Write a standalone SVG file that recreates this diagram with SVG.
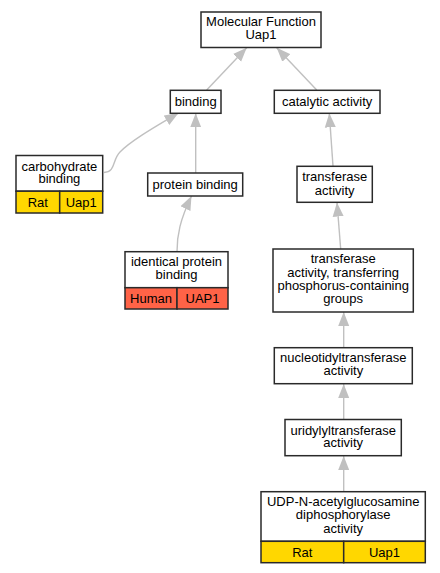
<svg xmlns="http://www.w3.org/2000/svg" width="440" height="573" viewBox="0 0 440 573">
<style>
.n{fill:#fff;stroke:#2a2a2a;stroke-width:1.5}
.y{fill:#ffd700;stroke:#2a2a2a;stroke-width:1.5}
.r{fill:#ff6347;stroke:#2a2a2a;stroke-width:1.5}
text{font-family:"Liberation Sans",Arial,sans-serif;font-size:13px;fill:#000;text-anchor:middle}
.e{fill:none;stroke:#c0c0c0;stroke-width:1.4;marker-end:url(#a)}
</style>
<defs>
<marker id="a" markerUnits="userSpaceOnUse" markerWidth="15" markerHeight="12" refX="14" refY="5.5" orient="auto" viewBox="0 0 15 11">
<path d="M0,0 L14,5.5 L0,11 z" fill="#c0c0c0"/>
</marker>
</defs>
<g id="connectors">
<path class="e" d="M206.7,90 L246.7,47.7"/>
<path class="e" d="M316.7,90 L276.7,47.7"/>
<path class="e" d="M104,172.5 C116,172 112,160 120,152 C132,140 155,127 178.5,113"/>
<path class="e" d="M195.7,173 L195.7,113.3"/>
<path class="e" d="M333,166 L329.3,113.3"/>
<path class="e" d="M177,251.7 C177,235 180,220 191.5,196"/>
<path class="e" d="M340.7,249 L337,202.5"/>
<path class="e" d="M343.7,348 L343.7,312"/>
<path class="e" d="M343.7,420 L343.7,384"/>
<path class="e" d="M343.7,492 L343.7,456"/>
</g>
<g id="mf">
<rect class="n" x="201" y="12" width="120" height="35.5"/>
<text x="261" y="26">Molecular Function</text>
<text x="261" y="39">Uap1</text>
</g>
<g id="binding">
<rect class="n" x="170.3" y="90.3" width="50.7" height="23"/>
<text x="195.7" y="106">binding</text>
</g>
<g id="catalytic">
<rect class="n" x="274.3" y="90.3" width="105.7" height="23"/>
<text x="327.2" y="106">catalytic activity</text>
</g>
<g id="carbohydrate">
<rect class="n" x="16" y="155.5" width="86.7" height="35.7"/>
<rect class="y" x="16" y="191.2" width="43.7" height="21.8"/>
<rect class="y" x="59.7" y="191.2" width="43" height="21.8"/>
<text x="59.4" y="170.5">carbohydrate</text>
<text x="59.4" y="183">binding</text>
<text x="37.8" y="206.5">Rat</text>
<text x="81.2" y="206.5">Uap1</text>
</g>
<g id="protein">
<rect class="n" x="147.7" y="173" width="95" height="23"/>
<text x="195.2" y="189">protein binding</text>
</g>
<g id="transferase">
<rect class="n" x="297" y="166.3" width="75.3" height="36"/>
<text x="334.7" y="181">transferase</text>
<text x="334.7" y="194.5">activity</text>
</g>
<g id="identical">
<rect class="n" x="125" y="251.7" width="103" height="36"/>
<rect class="r" x="125" y="287.7" width="52" height="21.3"/>
<rect class="r" x="177" y="287.7" width="51" height="21.3"/>
<text x="176.5" y="266">identical protein</text>
<text x="176.5" y="279">binding</text>
<text x="151" y="302.8">Human</text>
<text x="202.5" y="302.8">UAP1</text>
</g>
<g id="phosphorus">
<rect class="n" x="273" y="249" width="140.3" height="63"/>
<text x="343.2" y="263">transferase</text>
<text x="343.2" y="276.5">activity, transferring</text>
<text x="343.2" y="289.5">phosphorus-containing</text>
<text x="343.2" y="303">groups</text>
</g>
<g id="nucleotidyl">
<rect class="n" x="274.3" y="347.7" width="138" height="36"/>
<text x="343.3" y="362">nucleotidyltransferase</text>
<text x="343.3" y="375">activity</text>
</g>
<g id="uridylyl">
<rect class="n" x="285" y="419.5" width="116.3" height="36.2"/>
<text x="343.2" y="434.5">uridylyltransferase</text>
<text x="343.2" y="447">activity</text>
</g>
<g id="udp">
<rect class="n" x="261" y="491.7" width="164.3" height="49.6"/>
<rect class="y" x="261" y="541.3" width="82.7" height="21.4"/>
<rect class="y" x="343.7" y="541.3" width="81.6" height="21.4"/>
<text x="343.2" y="505.5">UDP-N-acetylglucosamine</text>
<text x="343.2" y="519">diphosphorylase</text>
<text x="343.2" y="532.5">activity</text>
<text x="302.3" y="556.5">Rat</text>
<text x="384.5" y="556.5">Uap1</text>
</g>
</svg>
